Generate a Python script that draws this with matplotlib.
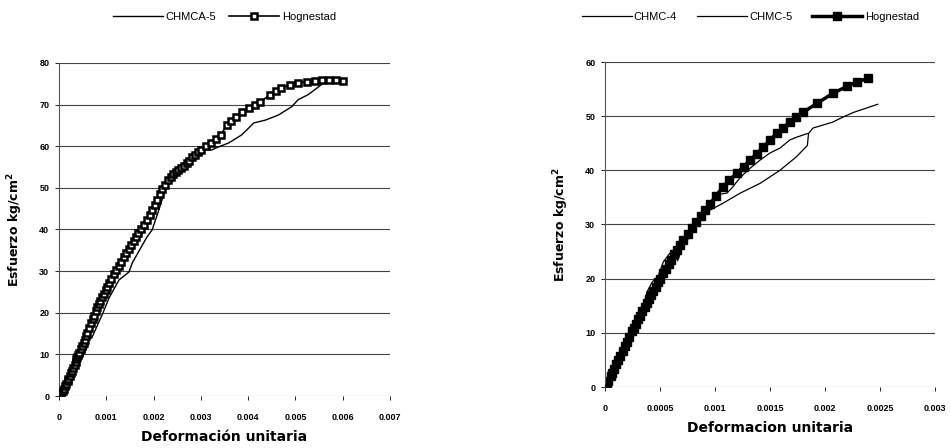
import matplotlib
matplotlib.use("Agg")
import matplotlib.pyplot as plt

plt.rcParams['font.family'] = ['Liberation Sans', 'DejaVu Sans']

# ---------------- Left chart data ----------------
left_xticks = [0, 0.001, 0.002, 0.003, 0.004, 0.005, 0.006, 0.007]
left_xticklabels = ["0", "0.001", "0.002", "0.003", "0.004", "0.005", "0.006", "0.007"]
left_yticks = [0, 10, 20, 30, 40, 50, 60, 70, 80]

hog_left_eps = [0, 0.00003, 0.00005, 0.00008, 0.0001, 0.00013, 0.00015, 0.00018, 0.0002,
                0.00023, 0.00026, 0.00028, 0.0003, 0.00033, 0.00035, 0.00037, 0.00039,
                0.00041, 0.00043, 0.00046, 0.00049, 0.00052, 0.00054, 0.00057, 0.0006,
                0.00064, 0.00068, 0.00071, 0.00074, 0.00078, 0.00081, 0.00084, 0.00087,
                0.00091, 0.00095, 0.00099, 0.00102, 0.00106, 0.00111, 0.00116, 0.00121,
                0.00126, 0.00131, 0.00137, 0.00142, 0.00147, 0.00152, 0.00158, 0.00163,
                0.00168, 0.00174, 0.0018, 0.00186, 0.00192, 0.00197, 0.00202, 0.00207,
                0.00213, 0.00218, 0.00224, 0.0023, 0.00236, 0.00241, 0.00247, 0.00252,
                0.00258, 0.00264, 0.0027, 0.00275, 0.00282, 0.00288, 0.00294, 0.003,
                0.00311, 0.00321, 0.00332, 0.00342, 0.00355, 0.00364, 0.00374, 0.00388,
                0.00401, 0.00414, 0.00426, 0.00447, 0.00458, 0.0047, 0.00488, 0.00506,
                0.00524, 0.00542, 0.00556, 0.0057, 0.00585, 0.00601]
hog_left_sig = [0, 0.4, 0.7, 1.3, 1.8, 2.5, 3.0, 3.6, 4.2,
                4.9, 5.5, 6.1, 6.7, 7.5, 8.2, 8.8, 9.3,
                9.8, 10.3, 11.2, 12.0, 12.8, 13.5, 14.4, 15.2,
                16.4, 17.5, 18.4, 19.3, 20.4, 21.4, 22.1, 22.8,
                23.7, 24.6, 25.4, 26.2, 27.2, 28.2, 29.3, 30.3,
                31.3, 32.3, 33.4, 34.4, 35.4, 36.3, 37.3, 38.2,
                39.1, 40.0, 41.1, 42.2, 43.5, 44.7, 45.9, 47.0,
                48.5, 49.8, 50.8, 51.8, 52.6, 53.4, 53.9, 54.3,
                54.8, 55.2, 55.9, 56.5, 57.3, 58.0, 58.6, 59.2,
                60.0, 60.8, 61.8, 62.7, 65.1, 66.1, 67.1, 68.2,
                69.2, 70.0, 70.7, 72.4, 73.2, 74.0, 74.7, 75.2,
                75.5, 75.7, 75.8, 75.9, 75.8, 75.6]

chmca5_eps = [0, 0.00005, 0.0001, 0.0002, 0.0003, 0.0004, 0.0005, 0.0006, 0.00064,
              0.00069, 0.00092, 0.00106, 0.00127, 0.00148, 0.00155, 0.0017, 0.00186,
              0.00197, 0.00212, 0.00226, 0.00268, 0.00296, 0.00323, 0.00332, 0.00359,
              0.00386, 0.00412, 0.00437, 0.00464, 0.00492, 0.00506, 0.00527, 0.00555,
              0.00563]
chmca5_sig = [0, 0.5, 1.5, 3.5, 5.5, 7.5, 9.5, 11.8, 13.9,
              13.9, 19.7, 23.6, 27.9, 29.8, 32.0, 35.0, 38.2,
              39.9, 45.0, 50.0, 55.0, 59.1, 59.1, 59.6, 60.8,
              62.7, 65.6, 66.3, 67.5, 69.5, 71.2, 72.4, 74.8,
              75.5]

# ---------------- Right chart data ----------------
right_xticks = [0, 0.0005, 0.001, 0.0015, 0.002, 0.0025, 0.003]
right_xticklabels = ["0", "0.0005", "0.001", "0.0015", "0.002", "0.0025", "0.003"]
right_yticks = [0, 10, 20, 30, 40, 50, 60]

hog_right_eps = [0, 0.00002, 0.00003, 0.00005, 0.00006, 0.00008, 0.0001, 0.00012, 0.00014,
                 0.00016, 0.00018, 0.0002, 0.00022, 0.000245, 0.00026, 0.00028, 0.0003,
                 0.00032, 0.00034, 0.00036, 0.00038, 0.0004, 0.00042, 0.00044, 0.00046,
                 0.00048, 0.0005, 0.00053, 0.00055, 0.00058, 0.0006, 0.00063, 0.00065,
                 0.00068, 0.00071, 0.00075, 0.00079, 0.00083, 0.00087, 0.00091, 0.00095,
                 0.00101, 0.00107, 0.00113, 0.0012, 0.00126, 0.00132, 0.00138, 0.00144,
                 0.0015, 0.00156, 0.00162, 0.00168, 0.00174, 0.0018, 0.00193, 0.00207,
                 0.0022, 0.00229, 0.00239]
hog_right_sig = [0, 0.8, 1.2, 2.0, 2.5, 3.4, 4.2, 5.0, 5.8,
                 6.6, 7.5, 8.3, 9.2, 10.3, 10.9, 11.7, 12.5,
                 13.2, 14.0, 14.8, 15.6, 16.3, 17.0, 17.8, 18.5,
                 19.3, 20.0, 21.1, 21.8, 22.8, 23.5, 24.6, 25.3,
                 26.2, 27.1, 28.2, 29.3, 30.4, 31.5, 32.6, 33.7,
                 35.3, 36.9, 38.2, 39.5, 40.7, 41.9, 43.1, 44.3,
                 45.6, 46.8, 47.9, 48.9, 49.8, 50.7, 52.4, 54.2,
                 55.5, 56.3, 57.0]

chmc4_eps = [0, 0.0001, 0.0002, 0.0003, 0.00036, 0.00038, 0.00043, 0.00048, 0.00053,
             0.00059, 0.00064, 0.00066, 0.0007, 0.0008, 0.0009, 0.00095, 0.00107,
             0.00123, 0.00141, 0.00159, 0.00174, 0.00184, 0.00185, 0.00189, 0.00207,
             0.00216, 0.00226, 0.00248]
chmc4_sig = [0, 4.0, 8.2, 12.5, 15.5, 17.5, 19.4, 20.3, 23.1,
             24.7, 24.7, 23.3, 25.5, 28.8, 31.6, 32.6, 33.9,
             35.8, 37.6, 40.0, 42.5, 44.6, 46.8, 47.8, 48.9,
             49.8, 50.7, 52.2]

chmc5_eps = [0, 0.0001, 0.0003, 0.0005, 0.0007, 0.0009, 0.00105, 0.00111, 0.00116,
             0.00123, 0.00132, 0.00141, 0.0015, 0.00159, 0.00168, 0.00174, 0.00184]
chmc5_sig = [0, 4.1, 12.3, 19.8, 26.5, 32.2, 35.6, 35.8, 36.9,
             38.7, 40.4, 41.9, 43.2, 44.1, 45.6, 46.1, 46.8]

fig = plt.figure(figsize=(9.51, 4.48), dpi=100)

axL = fig.add_axes([59/951, 52/448, 331/951, 333/448])
axR = fig.add_axes([605/951, 61/448, 330/951, 325/448])

grid_kw = dict(color='#444444', linewidth=0.8)


def style(ax, xticks, xlabels, yticks, xmax, ymax):
    ax.set_xlim(0, xmax)
    ax.set_ylim(0, ymax)
    ax.set_xticks(xticks)
    ax.set_xticklabels(xlabels)
    ax.set_yticks(yticks)
    for s in ['top', 'right', 'bottom']:
        ax.spines[s].set_visible(False)
    ax.spines['left'].set_color('#555555')
    ax.spines['left'].set_linewidth(0.8)
    ax.yaxis.grid(True, **grid_kw)
    ax.set_axisbelow(True)
    ax.tick_params(axis='both', direction='out', length=3, width=0.7,
                   colors='#222222', labelsize=6.5, labelcolor='black')
    ax.tick_params(axis='x', pad=9)
    ax.tick_params(axis='y', pad=4)
    for lab in ax.get_xticklabels() + ax.get_yticklabels():
        lab.set_fontweight('bold')


label_font = ['DejaVu Sans']

# Left chart
axL.plot(chmca5_eps, chmca5_sig, color='black', linewidth=1.0, label='CHMCA-5', zorder=3)
axL.plot(hog_left_eps, hog_left_sig, color='black', linewidth=1.2, marker='s',
         markersize=4.6, markerfacecolor='white', markeredgecolor='black',
         markeredgewidth=1.8, label='Hognestad', zorder=4)
style(axL, left_xticks, left_xticklabels, left_yticks, 0.007, 80)
axL.set_ylabel('Esfuerzo kg/cm$^{\\mathbf{2}}$', fontsize=9, fontweight='bold',
               labelpad=10, family=label_font)
axL.set_xlabel('Deformación unitaria', fontsize=10, fontweight='bold', labelpad=6,
               family=label_font)
axL.legend(loc='center', bbox_to_anchor=(0.5, (431 - 52) / 333),
           ncol=2, frameon=False, fontsize=8, handlelength=4.5, columnspacing=1.2,
           handletextpad=0.2)

# Right chart
axR.plot(chmc4_eps, chmc4_sig, color='black', linewidth=0.9, label='CHMC-4', zorder=3)
axR.plot(chmc5_eps, chmc5_sig, color='black', linewidth=0.9, label='CHMC-5', zorder=3)
axR.plot(hog_right_eps, hog_right_sig, color='black', linewidth=2.5, marker='s',
         markersize=5.5, markerfacecolor='black', markeredgecolor='black',
         label='Hognestad', zorder=2)
style(axR, right_xticks, right_xticklabels, right_yticks, 0.003, 60)
axR.set_ylabel('Esfuerzo kg/cm$^{\\mathbf{2}}$', fontsize=9, fontweight='bold',
               labelpad=10, family=label_font)
axR.set_xlabel('Deformacion unitaria', fontsize=10, fontweight='bold', labelpad=6,
               family=label_font)
axR.legend(loc='center', bbox_to_anchor=(0.44, (431 - 61) / 325),
           ncol=3, frameon=False, fontsize=8, handlelength=4.5, columnspacing=1.8,
           handletextpad=0.2)

fig.savefig('out.png', dpi=100)
